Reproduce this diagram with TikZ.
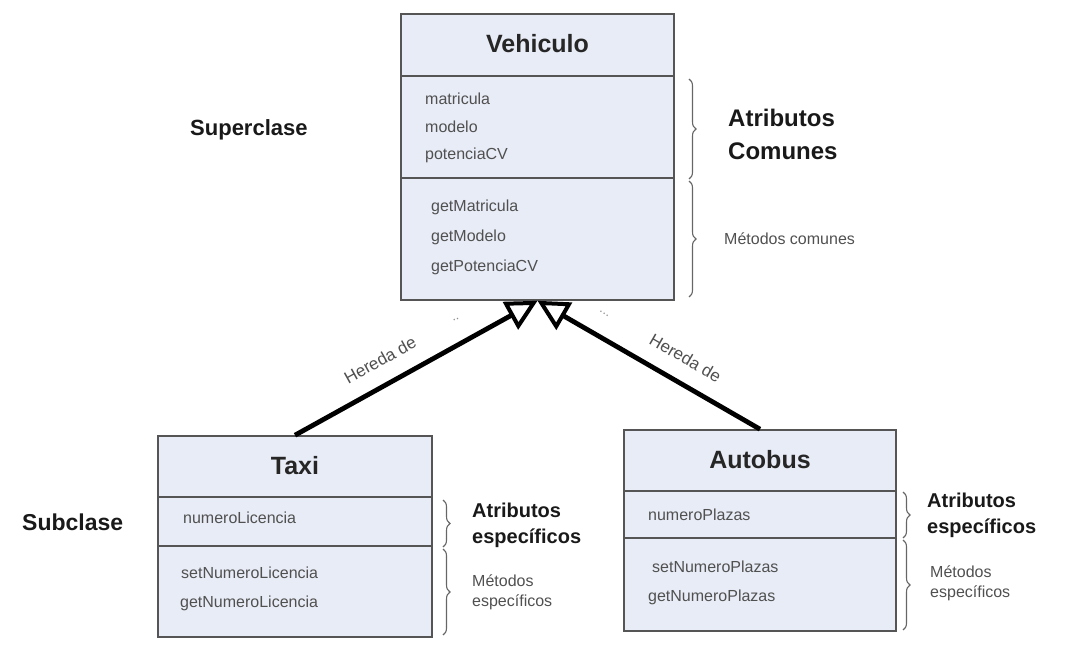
\documentclass[tikz,border=0pt]{standalone}
\usepackage{fontspec}
\setmainfont{Liberation Sans}
\usetikzlibrary{arrows.meta,decorations.pathreplacing}

\definecolor{boxfill}{HTML}{E8ECF6}
\definecolor{boxline}{HTML}{555555}
\definecolor{itemgray}{HTML}{505050}

\begin{document}
\begin{tikzpicture}[
      x=1pt, y=-1pt,
      every node/.style={inner sep=0pt},
      umlclass/.style={rectangle, draw=boxline, fill=boxfill, line width=1.6pt},
      divider/.style={draw=boxline, line width=1.6pt},
      title/.style={font=\fontsize{25}{28}\selectfont\bfseries, text=black!85},
      item/.style={anchor=west, font=\fontsize{16}{19}\selectfont, text=itemgray},
      biglabel/.style={anchor=west, align=left, text=black!90,
                       font=\fontsize{24}{33}\selectfont\bfseries},
      speclabel/.style={anchor=west, align=left, text=black!90,
                        font=\fontsize{20}{26}\selectfont\bfseries},
      note/.style={anchor=west, align=left, text=itemgray,
                   font=\fontsize{16}{20}\selectfont},
      herlabel/.style={text=itemgray, font=\fontsize{17}{20}\selectfont},
      llave/.style={decorate, decoration={brace, amplitude=7pt},
                    draw=black!60, line width=1.1pt},
      herencia/.style={line width=4.8pt, black,
                       -{Triangle[open, length=31pt, width=31pt, line width=4pt]}},
      multi/.style={font=\fontsize{13}{14}\selectfont, text=black!45},
    ]
    \useasboundingbox (0,0) rectangle (1074,652);

    % superclase
    \node[umlclass, minimum width=273pt, minimum height=286pt] (veh) at (537.5,157) {};
    \draw[divider] (401,76) -- (674,76);
    \draw[divider] (401,178) -- (674,178);
    \node[title] (vehtit) at (537.5,44) {Vehiculo};
    \node[item] (va1) at (425,99) {matricula};
    \node[item] (va2) at (425,127) {modelo};
    \node[item] (va3) at (425,155) {potenciaCV};
    \node[item] (vm1) at (431,207) {getMatricula};
    \node[item] (vm2) at (431,237) {getModelo};
    \node[item] (vm3) at (431,267) {getPotenciaCV};

    % subclases
    \node[umlclass, minimum width=274pt, minimum height=201pt] (taxi) at (295,536.5) {};
    \draw[divider] (158,497) -- (432,497);
    \draw[divider] (158,546) -- (432,546);
    \node[title] (taxitit) at (295,466) {Taxi};
    \node[item] (ta1) at (183,518) {numeroLicencia};
    \node[item] (tm1) at (181,573) {setNumeroLicencia};
    \node[item] (tm2) at (180,603) {getNumeroLicencia};

    \node[umlclass, minimum width=272pt, minimum height=201pt] (bus) at (760,530.5) {};
    \draw[divider] (624,491) -- (896,491);
    \draw[divider] (624,538) -- (896,538);
    \node[title] (bustit) at (760,460) {Autobus};
    \node[item] (ba1) at (648,515) {numeroPlazas};
    \node[item] (bm1) at (652,567) {setNumeroPlazas};
    \node[item] (bm2) at (648,597) {getNumeroPlazas};

    % herencia
    \draw[herencia] (taxi.north) --
      node[pos=0.40, sloped, above=16pt, herlabel] {Hereda de}
      node[pos=0.71, sloped, above=20pt, multi] {..}
      (veh.south);
    \draw[herencia] (bus.north) --
      node[pos=0.39, sloped, above=16pt, herlabel] {Hereda de}
      node[pos=0.75, sloped, above=19pt, multi] {...}
      (veh.south);

    % llaves
    \draw[llave] (689,79) -- (689,179);
    \draw[llave] (689,181) -- (689,297);
    \draw[llave] (443,500) -- (443,547);
    \draw[llave] (443,549) -- (443,635);
    \draw[llave] (903,492) -- (903,538);
    \draw[llave] (903,540) -- (903,630);

    % etiquetas
    \node[biglabel, font=\fontsize{22}{26}\selectfont\bfseries] (supl) at (190,130) {Superclase};
    \node[biglabel, font=\fontsize{23}{26}\selectfont\bfseries] (subl) at (22,522) {Subclase};
    \node[biglabel] (comun) at (728,134) {Atributos\\Comunes};
    \node[note] (mcomun) at (724,239) {Métodos comunes};

    \node[speclabel] (tattr) at (472,525) {Atributos\\específicos};
    \node[note] (tmet) at (472,592) {Métodos\\específicos};
    \node[speclabel] (battr) at (927,515.5) {Atributos\\específicos};
    \node[note] (bmet) at (930,583) {Métodos\\específicos};

  \end{tikzpicture}
\end{document}
